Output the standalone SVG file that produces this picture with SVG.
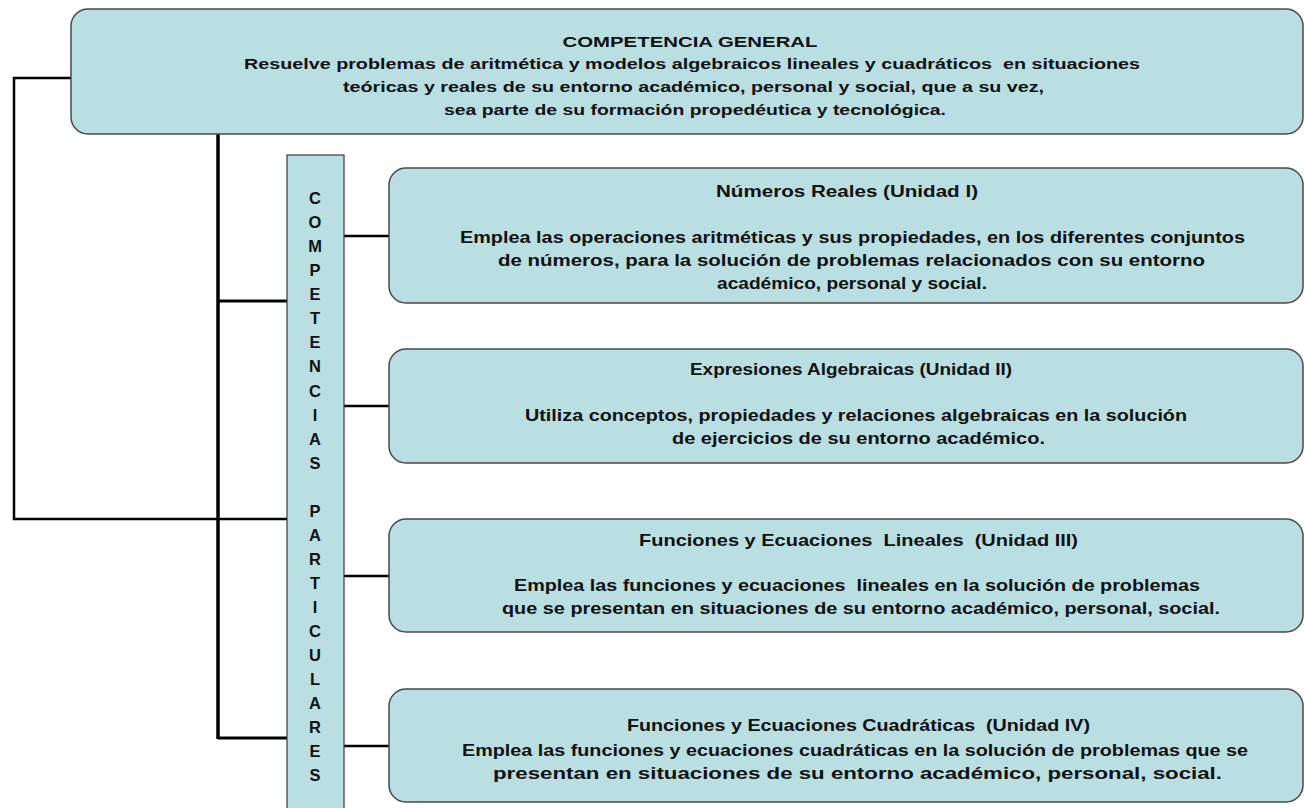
<svg xmlns="http://www.w3.org/2000/svg" width="1304" height="808" viewBox="0 0 1304 808">
<style>
.box{fill:#b9dfe3;stroke:#4a4a4a;stroke-width:1.5}
.bar{fill:#b9dfe3;stroke:#3a3a3a;stroke-width:1.2}
.t{font-family:"Liberation Sans",Arial,sans-serif;font-weight:bold;font-size:15.5px;fill:#111;text-anchor:middle}
.u{font-size:16.5px}
.v{font-family:"Liberation Sans",Arial,sans-serif;font-weight:bold;font-size:16.5px;fill:#111;text-anchor:middle}
.c{fill:none;stroke:#000;stroke-width:2.5}
</style>
<rect width="1304" height="808" fill="#fff"/>
<g id="connectors">
<polyline class="c" points="71,78 14,78 14,519 287,519"/>
<line class="c" x1="218" y1="134" x2="218" y2="739" style="stroke-width:3.5"/>
<line class="c" x1="218" y1="301" x2="287" y2="301" style="stroke-width:3"/>
<line class="c" x1="218" y1="738" x2="287" y2="738" style="stroke-width:3"/>
<line class="c" x1="344" y1="236" x2="389" y2="236"/>
<line class="c" x1="344" y1="406" x2="389" y2="406"/>
<line class="c" x1="344" y1="576" x2="389" y2="576"/>
<line class="c" x1="344" y1="746" x2="389" y2="746"/>
</g>
<g id="general">
<rect class="box" x="71" y="9" width="1232" height="125" rx="17"/>
<text class="t" x="690" y="47" textLength="255" lengthAdjust="spacingAndGlyphs">COMPETENCIA GENERAL</text>
<text class="t" x="692" y="68.5" textLength="896" lengthAdjust="spacingAndGlyphs" xml:space="preserve">Resuelve problemas de aritmética y modelos algebraicos lineales y cuadráticos  en situaciones</text>
<text class="t" x="693.5" y="91.5" textLength="701" lengthAdjust="spacingAndGlyphs">teóricas y reales de su entorno académico, personal y social, que a su vez,</text>
<text class="t" x="695" y="114.5" textLength="502" lengthAdjust="spacingAndGlyphs">sea parte de su formación propedéutica y tecnológica.</text>
</g>
<g id="particulares">
<rect class="bar" x="287" y="155" width="57" height="660"/>
<text class="v" x="315" y="204">C</text>
<text class="v" x="315" y="228">O</text>
<text class="v" x="315" y="252">M</text>
<text class="v" x="315" y="276">P</text>
<text class="v" x="315" y="300">E</text>
<text class="v" x="315" y="324">T</text>
<text class="v" x="315" y="348">E</text>
<text class="v" x="315" y="372">N</text>
<text class="v" x="315" y="396.5">C</text>
<text class="v" x="315" y="420.5">I</text>
<text class="v" x="315" y="444.5">A</text>
<text class="v" x="315" y="468.5">S</text>
<text class="v" x="315" y="516.5">P</text>
<text class="v" x="315" y="540.5">A</text>
<text class="v" x="315" y="564.5">R</text>
<text class="v" x="315" y="589">T</text>
<text class="v" x="315" y="613">I</text>
<text class="v" x="315" y="637">C</text>
<text class="v" x="315" y="661">U</text>
<text class="v" x="315" y="685">L</text>
<text class="v" x="315" y="709">A</text>
<text class="v" x="315" y="733">R</text>
<text class="v" x="315" y="757">E</text>
<text class="v" x="315" y="781">S</text>
</g>
<g id="unidad1">
<rect class="box" x="389" y="168" width="914" height="135" rx="17"/>
<text class="t u" x="847" y="197" textLength="262" lengthAdjust="spacingAndGlyphs">Números Reales (Unidad I)</text>
<text class="t u" x="852.5" y="243" textLength="785" lengthAdjust="spacingAndGlyphs">Emplea las operaciones aritméticas y sus propiedades, en los diferentes conjuntos</text>
<text class="t u" x="851.5" y="266" textLength="707" lengthAdjust="spacingAndGlyphs">de números, para la solución de problemas relacionados con su entorno</text>
<text class="t u" x="852" y="289" textLength="270" lengthAdjust="spacingAndGlyphs">académico, personal y social.</text>
</g>
<g id="unidad2">
<rect class="box" x="389" y="349" width="914" height="114" rx="17"/>
<text class="t u" x="851" y="375" textLength="322" lengthAdjust="spacingAndGlyphs">Expresiones Algebraicas (Unidad II)</text>
<text class="t u" x="856" y="421" textLength="662" lengthAdjust="spacingAndGlyphs">Utiliza conceptos, propiedades y relaciones algebraicas en la solución</text>
<text class="t u" x="858.5" y="444" textLength="373" lengthAdjust="spacingAndGlyphs">de ejercicios de su entorno académico.</text>
</g>
<g id="unidad3">
<rect class="box" x="389" y="519" width="914" height="113" rx="17"/>
<text class="t u" x="858.5" y="546" textLength="439" lengthAdjust="spacingAndGlyphs" xml:space="preserve">Funciones y Ecuaciones  Lineales  (Unidad III)</text>
<text class="t u" x="857" y="591" textLength="686" lengthAdjust="spacingAndGlyphs" xml:space="preserve">Emplea las funciones y ecuaciones  lineales en la solución de problemas</text>
<text class="t u" x="861" y="614" textLength="718" lengthAdjust="spacingAndGlyphs">que se presentan en situaciones de su entorno académico, personal, social.</text>
</g>
<g id="unidad4">
<rect class="box" x="389" y="689" width="914" height="113" rx="17"/>
<text class="t u" x="858.5" y="731" textLength="463" lengthAdjust="spacingAndGlyphs" xml:space="preserve">Funciones y Ecuaciones Cuadráticas  (Unidad IV)</text>
<text class="t u" x="855" y="756" textLength="786" lengthAdjust="spacingAndGlyphs">Emplea las funciones y ecuaciones cuadráticas en la solución de problemas que se</text>
<text class="t u" x="857.5" y="779" textLength="729" lengthAdjust="spacingAndGlyphs">presentan en situaciones de su entorno académico, personal, social.</text>
</g>
</svg>
